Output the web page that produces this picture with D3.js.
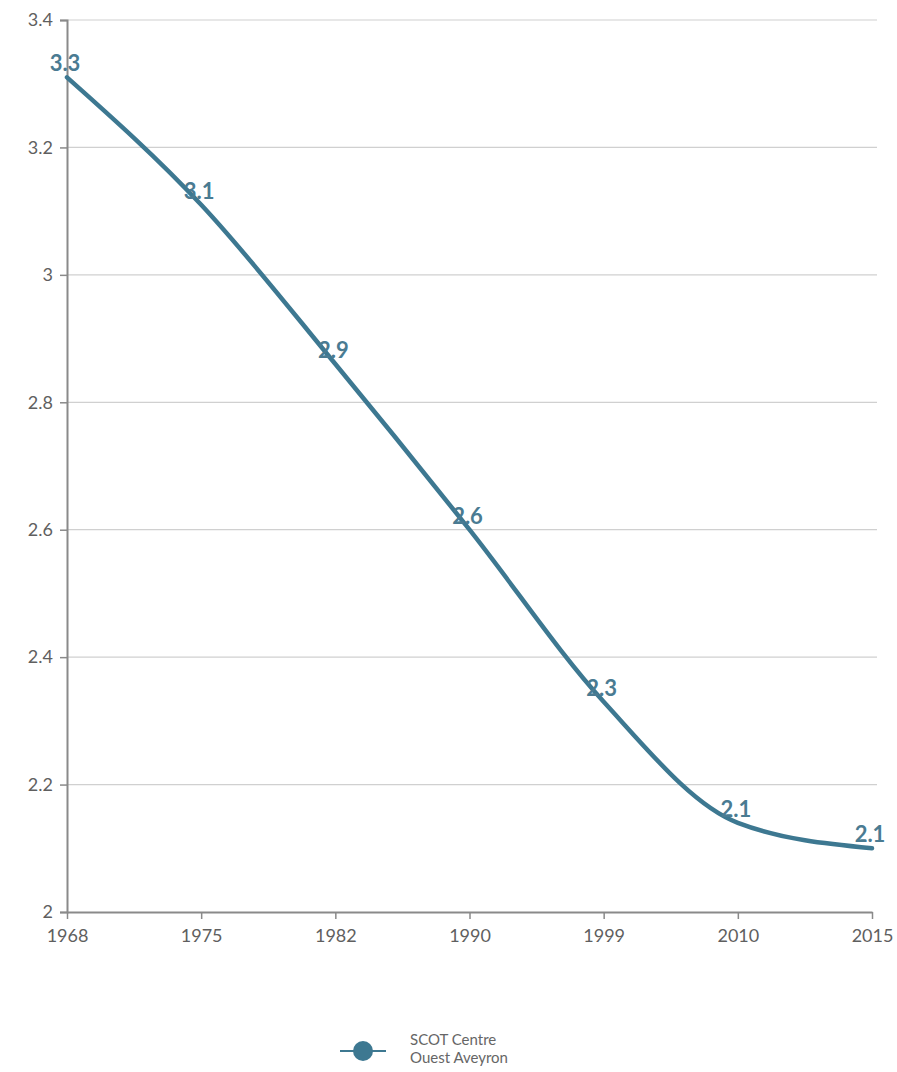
<!DOCTYPE html>
<html>
<head>
<meta charset="utf-8">
<script src="https://cdn.jsdelivr.net/npm/d3@7"></script>
<style>
  html, body { margin: 0; padding: 0; background: #fff; }
  svg { display: block; }
</style>
</head>
<body>
<svg id="chart" width="897" height="1072"></svg>
<script>
const years = ["1968", "1975", "1982", "1990", "1999", "2010", "2015"];
const values = [3.31, 3.11, 2.86, 2.60, 2.33, 2.14, 2.10];
const valueLabels = ["3.3", "3.1", "2.9", "2.6", "2.3", "2.1", "2.1"];
const yTicks = [2, 2.2, 2.4, 2.6, 2.8, 3, 3.2, 3.4];
const seriesName = ["SCOT Centre", "Ouest Aveyron"];

(function () {
const lineColor = "#3d7891";
const labelColor = "#4a7b92";
const textColor = "#5f5f5f";
const font = "Lato, 'Open Sans', sans-serif";

const svg = d3.select("#chart");
const mLeft = 67, mRight = 872, mTop = 20, mBottom = 912;

const x = d3.scalePoint().domain(years).range([mLeft, mRight]);
const y = d3.scaleLinear().domain([2, 3.4]).range([mBottom, mTop]);

// gridlines
svg.append("g")
  .selectAll("line")
  .data(yTicks.filter(d => d > 2))
  .join("line")
  .attr("x1", mLeft).attr("x2", mRight + 5)
  .attr("y1", d => y(d)).attr("y2", d => y(d))
  .attr("stroke", "#d0d0d0").attr("stroke-width", 1.2);

// y axis
const yAxis = d3.axisLeft(y).tickValues(yTicks).tickSize(7).tickPadding(7)
  .tickFormat(d => d3.format("~g")(d));
const gy = svg.append("g").attr("transform", `translate(${mLeft},0)`).call(yAxis);
gy.select(".domain").attr("stroke", "#8a8a8a").attr("stroke-width", 2);
gy.selectAll(".tick line").attr("stroke", "#8a8a8a").attr("stroke-width", 1.5);
gy.selectAll(".tick text").attr("fill", textColor).style("font-family", font)
  .style("font-size", "18px");

// x axis
const xAxis = d3.axisBottom(x).tickSize(7).tickPadding(10).tickSizeOuter(0);
const gx = svg.append("g").attr("transform", `translate(0,${mBottom})`).call(xAxis);
gx.select(".domain").attr("stroke", "#8a8a8a").attr("stroke-width", 2);
gx.selectAll(".tick line").attr("stroke", "#8a8a8a").attr("stroke-width", 1.5);
gx.selectAll(".tick text").attr("fill", textColor).style("font-family", font)
  .style("font-size", "18px");

// line
const data = years.map((yr, i) => ({ yr, v: values[i], lab: valueLabels[i] }));
const line = d3.line().x(d => x(d.yr)).y(d => y(d.v)).curve(d3.curveMonotoneX);
svg.append("path")
  .datum(data)
  .attr("d", line)
  .attr("fill", "none")
  .attr("stroke", lineColor)
  .attr("stroke-width", 4.5)
  .attr("stroke-linecap", "round");

// data labels
svg.append("g")
  .selectAll("text")
  .data(data)
  .join("text")
  .attr("x", d => x(d.yr) - 2)
  .attr("y", d => y(d.v) - 6)
  .attr("text-anchor", "middle")
  .attr("fill", labelColor)
  .style("font-family", font)
  .style("font-weight", "bold")
  .style("font-size", "22px")
  .text(d => d.lab);

// legend
const lg = svg.append("g");
lg.append("line").attr("x1", 340).attr("x2", 386).attr("y1", 1051).attr("y2", 1051)
  .attr("stroke", lineColor).attr("stroke-width", 2);
lg.append("circle").attr("cx", 363).attr("cy", 1051).attr("r", 10).attr("fill", lineColor);
lg.append("text")
  .attr("x", 410).attr("y", 1045)
  .attr("fill", "#666")
  .style("font-family", font)
  .style("font-size", "15px")
  .selectAll("tspan")
  .data(seriesName)
  .join("tspan")
  .attr("x", 410)
  .attr("dy", (d, i) => i === 0 ? 0 : 18)
  .text(d => d);
})();
</script>
</body>
</html>
